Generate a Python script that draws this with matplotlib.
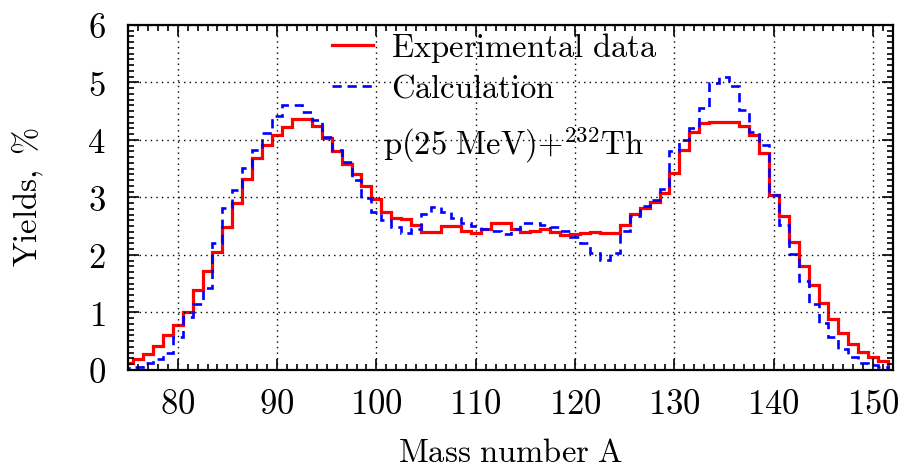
import numpy as np
import matplotlib
matplotlib.use('Agg')
import matplotlib.pyplot as plt
from matplotlib.ticker import MultipleLocator, FuncFormatter

plt.rcParams['mathtext.fontset'] = 'cm'
plt.rcParams['font.family'] = 'serif'

# mass numbers (bin centres)
mass = np.arange(75, 152)

yield_exp = [0.12, 0.19, 0.27, 0.42, 0.61, 0.78, 1.01, 1.39, 1.73, 2.06,
             2.48, 2.90, 3.32, 3.68, 3.91, 4.08, 4.23, 4.36, 4.36, 4.24,
             4.03, 3.81, 3.59, 3.40, 3.20, 2.97, 2.75, 2.65, 2.62, 2.52,
             2.40, 2.40, 2.50, 2.50, 2.41, 2.39, 2.46, 2.55, 2.55, 2.45,
             2.40, 2.42, 2.45, 2.40, 2.35, 2.36, 2.39, 2.40, 2.38, 2.39,
             2.53, 2.72, 2.82, 2.92, 3.07, 3.42, 3.83, 4.14, 4.29, 4.31,
             4.31, 4.31, 4.25, 4.09, 3.77, 3.04, 2.67, 2.23, 1.81, 1.47,
             1.16, 0.89, 0.64, 0.45, 0.32, 0.22, 0.16]

yield_calc = [0.03, 0.06, 0.13, 0.19, 0.30, 0.57, 0.92, 1.15, 1.43, 2.20,
              2.81, 3.13, 3.51, 3.83, 4.12, 4.42, 4.61, 4.61, 4.49, 4.34,
              4.06, 3.83, 3.62, 3.30, 2.99, 2.75, 2.61, 2.48, 2.38, 2.45,
              2.71, 2.83, 2.75, 2.64, 2.55, 2.50, 2.46, 2.41, 2.36, 2.45,
              2.56, 2.55, 2.52, 2.48, 2.41, 2.32, 2.21, 2.04, 1.91, 2.04,
              2.41, 2.67, 2.85, 2.95, 3.15, 3.81, 4.00, 4.21, 4.56, 4.99,
              5.10, 4.94, 4.52, 4.14, 3.91, 3.04, 2.52, 2.02, 1.55, 1.15,
              0.82, 0.57, 0.36, 0.22, 0.13, 0.09, 0.05]

edges = np.append(mass - 0.5, mass[-1] + 0.5)

fig = plt.figure(figsize=(9.06, 4.69), dpi=100)
ax = fig.add_axes([0.1413, 0.2111, 0.8444, 0.7356])

ax.stairs(yield_exp, edges, color='#ff0000', linewidth=2.3,
          label=r'$\mathrm{Experimental\ data}$')
ax.stairs(yield_calc, edges, color='#0000ff', linewidth=1.9,
          linestyle=(0, (3.5, 2.2)), label=r'$\mathrm{Calculation}$')

ax.set_xlim(75, 152)
ax.set_ylim(0, 6)
ax.xaxis.set_major_locator(MultipleLocator(10))
ax.xaxis.set_minor_locator(MultipleLocator(1))
ax.yaxis.set_major_locator(MultipleLocator(1))
ax.yaxis.set_minor_locator(MultipleLocator(0.1))
ax.xaxis.set_major_formatter(FuncFormatter(lambda v, p: r'$%d$' % v))
ax.yaxis.set_major_formatter(FuncFormatter(lambda v, p: r'$%d$' % v))
ax.tick_params(which='both', direction='in', top=True, right=True,
               labelsize=25, width=1.2)
ax.tick_params(which='major', length=8)
ax.tick_params(axis='x', which='major', pad=12)
ax.tick_params(axis='y', which='major', pad=16)
ax.tick_params(which='minor', length=4)
for s in ax.spines.values():
    s.set_linewidth(1.6)

ax.grid(True, which='major', color='black', linestyle=(0, (1, 3)), linewidth=1.0)

ax.set_xlabel(r'$\mathrm{Mass\ number\ A}$', fontsize=23.5, labelpad=12)
ax.set_ylabel(r'$\mathrm{Yields,\ \%}$', fontsize=23.5, labelpad=30)

ax.text(0.333, 3.92, r'$\mathrm{p(25\ MeV){+}^{232}Th}$',
        transform=ax.get_yaxis_transform(), fontsize=23.5, va='center', ha='left')

leg = ax.legend(loc='upper left', bbox_to_anchor=(0.2667, 0.983), frameon=False,
                fontsize=23.5, handlelength=1.25, handletextpad=0.55,
                labelspacing=0.22, borderaxespad=0, borderpad=0)

fig.savefig('out.png', dpi=100)
